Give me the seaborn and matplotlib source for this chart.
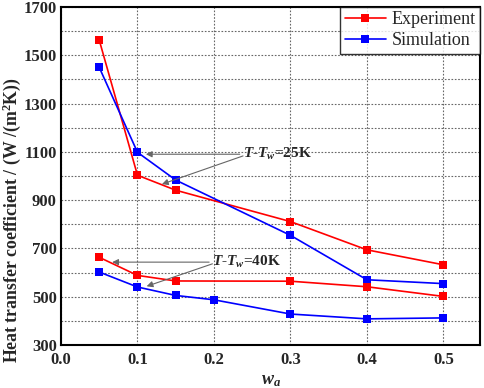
import matplotlib
matplotlib.use("Agg")
import matplotlib.pyplot as plt
import seaborn as sns
import pandas as pd
from matplotlib.ticker import MultipleLocator

# Data
x_25 = [0.05, 0.10, 0.15, 0.30, 0.40, 0.50]
exp_25 = [1563, 1003, 941, 811, 694, 632]
sim_25 = [1450, 1098, 983, 754, 570, 554]
x_exp_40 = [0.05, 0.10, 0.15, 0.30, 0.40, 0.50]
exp_40 = [663, 588, 565, 564, 541, 501]
x_sim_40 = [0.05, 0.10, 0.15, 0.20, 0.30, 0.40, 0.50]
sim_40 = [602, 540, 505, 487, 428, 408, 412]
y_ticks = [300, 500, 700, 900, 1100, 1300, 1500, 1700]
x_ticks = [0.0, 0.1, 0.2, 0.3, 0.4, 0.5]

sns.set_style("white")
plt.rcParams['font.family'] = ['Liberation Serif', 'DejaVu Serif']
plt.rcParams['mathtext.fontset'] = 'custom'
plt.rcParams['mathtext.rm'] = 'Liberation Serif:bold'
plt.rcParams['mathtext.it'] = 'Liberation Serif:italic:bold'
plt.rcParams['mathtext.bf'] = 'Liberation Serif:bold'

fig = plt.figure(figsize=(4.84, 3.88), dpi=100)
ax = fig.add_axes([0.126, 0.111, 0.866, 0.871])

red = "#ff0000"
blue = "#0000ff"
kw = dict(marker="s", markersize=5.5, linewidth=1.2, markeredgewidth=0, ax=ax, estimator=None)
sns.lineplot(x=x_25, y=exp_25, color=red, label="Experiment", **kw)
sns.lineplot(x=x_25, y=sim_25, color=blue, label="Simulation", **kw)
sns.lineplot(x=x_exp_40, y=exp_40, color=red, label="_nolegend_", **kw)
sns.lineplot(x=x_sim_40, y=sim_40, color=blue, label="_nolegend_", **kw)

ax.set_xlim(0.0, 0.548)
ax.set_ylim(300, 1700)
ax.set_xticks(x_ticks)
ax.set_xticklabels([f"{v:.1f}" for v in x_ticks])
ax.xaxis.set_minor_locator(MultipleLocator(0.05))
ax.set_yticks(y_ticks)
ax.set_yticklabels([str(v) for v in y_ticks])
ax.yaxis.set_minor_locator(MultipleLocator(100))
ax.grid(True, which="major", axis="x", linestyle=(0, (1.5, 1.5)), color="#666666", linewidth=0.8)
ax.grid(True, which="both", axis="y", linestyle=(0, (1.5, 1.5)), color="#666666", linewidth=0.8)
ax.set_axisbelow(True)
ax.tick_params(which="both", direction="in", top=False, right=False)
ax.tick_params(which="major", length=4, width=1, labelsize=12, pad=3)
ax.tick_params(axis="x", which="major", pad=5)
ax.tick_params(which="minor", length=2.5, width=1)
for lab in ax.get_xticklabels() + ax.get_yticklabels():
    lab.set_fontweight("bold")
for s in ax.spines.values():
    s.set_linewidth(1.5)
    s.set_color("black")

ax.set_ylabel("Heat transfer coefficient / (W /(m$^{2}$K))", fontsize=12.8, fontweight="bold")
ax.yaxis.set_label_coords(-0.09, 0.37)
ax.set_xlabel("$w_a$", fontsize=13, labelpad=3)

leg = ax.legend(loc="upper right", fontsize=13, frameon=True, fancybox=False,
                edgecolor="black", borderaxespad=0, handlelength=2.3,
                borderpad=0.25, labelspacing=0.2, handletextpad=0.3)
leg.get_frame().set_linewidth(1.0)

arrowprops = dict(arrowstyle="-|>", color="#666666", lw=0.8, mutation_scale=9,
                  shrinkA=0, shrinkB=0)
ax.annotate("$T$-$T_w$=25K", xy=(0.111, 1090), xytext=(0.238, 1090),
            fontsize=11, fontweight="bold", va="center", ha="left", arrowprops=arrowprops)
ax.annotate("", xy=(0.132, 966), xytext=(0.238, 1083), arrowprops=arrowprops)
ax.annotate("$T$-$T_w$=40K", xy=(0.067, 643), xytext=(0.198, 643),
            fontsize=11, fontweight="bold", va="center", ha="left", arrowprops=arrowprops)
ax.annotate("", xy=(0.112, 543), xytext=(0.198, 636), arrowprops=arrowprops)

fig.savefig("out.png", dpi=100)
